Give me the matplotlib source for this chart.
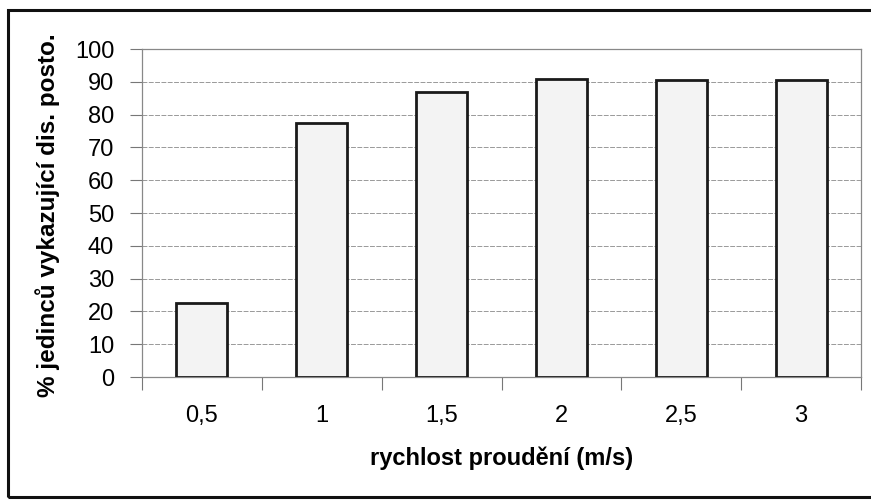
import numpy as np
import matplotlib
matplotlib.use('Agg')
import matplotlib.pyplot as plt
from matplotlib.patches import Rectangle

# data
rychlost = ['0,5', '1', '1,5', '2', '2,5', '3']
procenta = [22.6, 77.5, 87.0, 91.0, 90.6, 90.4]
y_ticks = [0, 10, 20, 30, 40, 50, 60, 70, 80, 90, 100]

plt.rcParams['font.family'] = ['Liberation Sans', 'DejaVu Sans']

fig = plt.figure(figsize=(8.71, 5.01), dpi=100)
ax = fig.add_axes([142 / 871, 1 - 377 / 501, (861 - 142) / 871, (377 - 49) / 501])

x = np.arange(len(rychlost))
ax.bar(x, procenta, width=0.425, color='#f3f3f3', edgecolor='#1a1a1a', linewidth=2, zorder=3)

ax.set_xlim(-0.5, len(rychlost) - 0.5)
ax.set_ylim(0, 100)

# y osa
ax.set_yticks(y_ticks)
ax.tick_params(axis='y', direction='out', length=9, width=0.8, color='#777777',
               labelsize=17, pad=11)
ax.grid(axis='y', color='#999999', linestyle=(0, (5, 1.5)), linewidth=0.7, zorder=0)

# x osa: carky na hranicich kategorii, popisky uprostred
ax.set_xticks(np.arange(-0.5, len(rychlost), 1))
ax.set_xticklabels([])
ax.tick_params(axis='x', which='major', direction='out', length=9, width=0.8, color='#777777')
ax.set_xticks(x, minor=True)
ax.set_xticklabels(rychlost, minor=True)
ax.tick_params(axis='x', which='minor', length=0, labelsize=17, pad=20.5)

for side in ['left', 'bottom', 'top', 'right']:
    ax.spines[side].set_color('#888888')
    ax.spines[side].set_linewidth(0.9)

ax.set_xlabel('rychlost proudění (m/s)', fontsize=17, fontweight='bold', labelpad=14)
ax.set_ylabel('% jedinců vykazující dis. posto.', fontsize=17.5, fontweight='bold')
ax.yaxis.set_label_coords(-0.114, 0.494)

# ramecek kolem celeho grafu
fig.patches.append(Rectangle((8 / 871, 1 - 497 / 501), 870 / 871, (497 - 10) / 501,
                             transform=fig.transFigure, fill=False,
                             edgecolor='#111111', linewidth=2.2))

fig.savefig('out.png', dpi=100)
